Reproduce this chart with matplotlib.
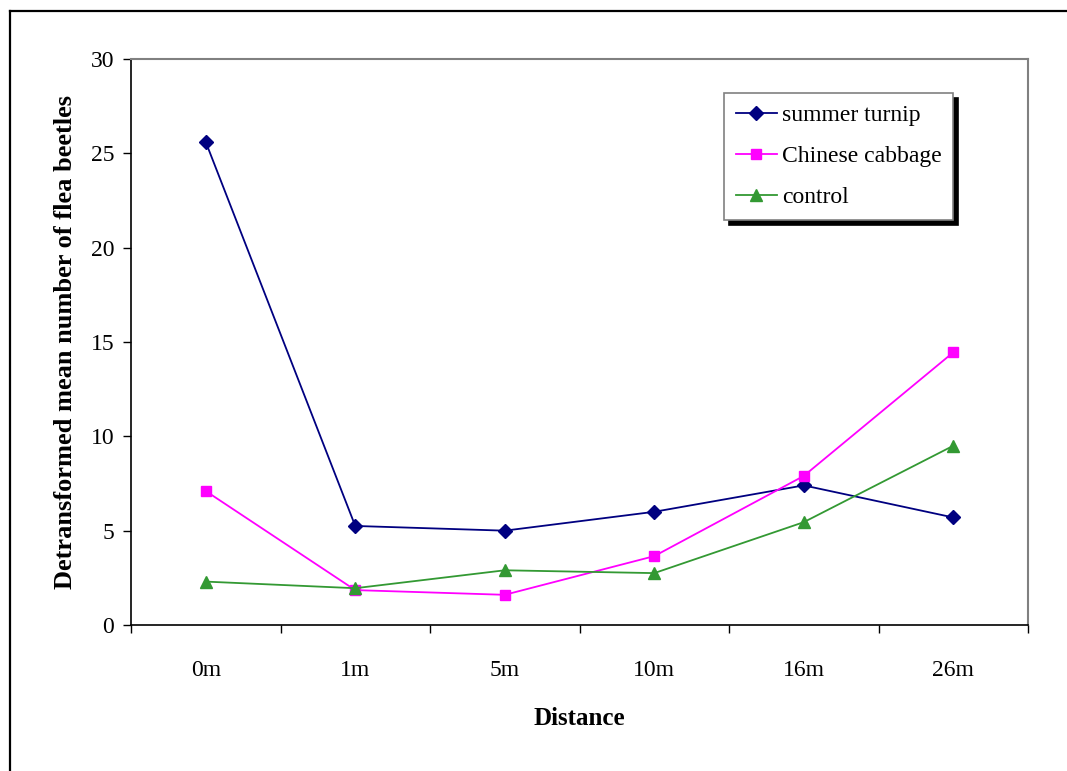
import numpy as np
import matplotlib.pyplot as plt
from matplotlib.lines import Line2D

distances = ['0m', '1m', '5m', '10m', '16m', '26m']
summer_turnip = [25.6, 5.25, 5.0, 6.0, 7.4, 5.7]
chinese_cabbage = [7.1, 1.85, 1.6, 3.65, 7.9, 14.45]
control = [2.3, 1.95, 2.9, 2.75, 5.45, 9.5]
yticks = [0, 5, 10, 15, 20, 25, 30]

plt.rcParams['font.family'] = ['Liberation Serif', 'DejaVu Serif']

fig = plt.figure(figsize=(10.67, 7.71), dpi=100)
ax = fig.add_axes([131 / 1067, 1 - 625 / 771, (1028 - 131) / 1067, (625 - 59) / 771])

x = np.arange(len(distances))
ax.plot(x, summer_turnip, color='#000080', lw=1.3, marker='D', ms=7.5,
        label='summer turnip')
ax.plot(x, chinese_cabbage, color='#ff00ff', lw=1.3, marker='s', ms=7.5,
        label='Chinese cabbage')
ax.plot(x, control, color='#339933', lw=1.3, marker='^', ms=8.5,
        label='control')

ax.set_xlim(-0.5, len(distances) - 0.5)
ax.set_ylim(0, 30)
ax.set_yticks(yticks)

# category labels sit between the boundary ticks
ax.set_xticks(np.arange(-0.5, len(distances)), labels=[])
ax.set_xticks(x, labels=distances, minor=True)
ax.tick_params(axis='x', which='major', direction='out', length=6, width=1)
ax.tick_params(axis='x', which='minor', length=0, pad=25, labelsize=17)
ax.tick_params(axis='y', direction='out', length=6, width=1, labelsize=17, pad=6)

for side in ('top', 'right'):
    ax.spines[side].set_color('#808080')
    ax.spines[side].set_linewidth(1.5)
for side in ('left', 'bottom'):
    ax.spines[side].set_linewidth(1.2)

ax.set_xlabel('Distance', fontsize=18, fontweight='bold', labelpad=19)
ax.set_ylabel('Detransformed mean number of flea beetles', fontsize=19,
              fontweight='bold', labelpad=10)

leg = ax.legend(loc='upper left', bbox_to_anchor=((724 - 131) / 897, (625 - 93) / 566),
                fontsize=17, frameon=True, fancybox=False, handlelength=1.75,
                labelspacing=0.82, borderpad=0.5, handletextpad=0.2,
                borderaxespad=0,
                shadow={'ox': 3.5, 'oy': -3.5, 'color': 'black', 'alpha': 1})
leg.get_frame().set_edgecolor('#808080')
leg.get_frame().set_linewidth(1.2)

# outer chart frame (left and top edges)
fig.add_artist(Line2D([10 / 1067, 10 / 1067], [0, 1 - 11 / 771],
                      transform=fig.transFigure, color='black', lw=1.6))
fig.add_artist(Line2D([10 / 1067, 1], [1 - 11 / 771, 1 - 11 / 771],
                      transform=fig.transFigure, color='black', lw=1.6))

fig.savefig('out.png', dpi=100)
